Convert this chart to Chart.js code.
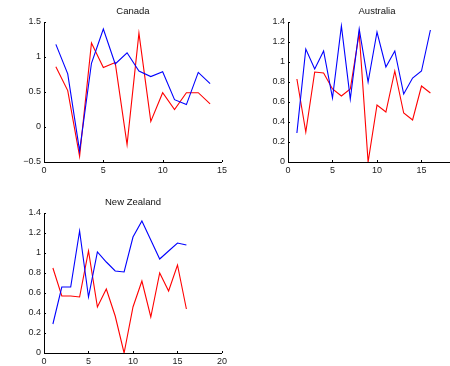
<!DOCTYPE html>
<html>
<head>
<meta charset="utf-8">
<script src="https://cdn.jsdelivr.net/npm/chart.js@4/dist/chart.umd.min.js"></script>
<style>
  html, body { margin: 0; padding: 0; background: #fff; overflow: hidden; width: 450px; height: 366px; }
  .panel { position: absolute; width: 230px; height: 180px; }
</style>
</head>
<body>
<div class="panel" style="left:0;top:0"><canvas id="canada"></canvas></div>
<div class="panel" style="left:244px;top:0"><canvas id="australia"></canvas></div>
<div class="panel" style="left:0;top:191px"><canvas id="newzealand"></canvas></div>
<script>
// Panel titles
const titles = ["Canada", "Australia", "New Zealand"];

// Canada (periods 1..14)
const canadaBlue = [1.18, 0.76, -0.34, 0.91, 1.40, 0.90, 1.06, 0.80, 0.72, 0.79, 0.39, 0.32, 0.78, 0.62];
const canadaRed  = [0.86, 0.52, -0.42, 1.20, 0.85, 0.92, -0.25, 1.34, 0.08, 0.49, 0.25, 0.49, 0.49, 0.33];

// Australia (periods 1..16)
const australiaBlue = [0.29, 1.13, 0.93, 1.11, 0.64, 1.36, 0.63, 1.33, 0.80, 1.30, 0.95, 1.11, 0.68, 0.84, 0.91, 1.32];
const australiaRed  = [0.83, 0.30, 0.90, 0.89, 0.73, 0.66, 0.73, 1.29, 0.00, 0.57, 0.50, 0.91, 0.49, 0.42, 0.76, 0.69];

// New Zealand (periods 1..16)
const nzBlue = [0.29, 0.66, 0.66, 1.22, 0.56, 1.01, 0.91, 0.82, 0.81, 1.16, 1.32, 1.13, 0.94, 1.02, 1.10, 1.08];
const nzRed  = [0.85, 0.57, 0.57, 0.56, 1.02, 0.46, 0.64, 0.37, 0.00, 0.46, 0.72, 0.36, 0.80, 0.62, 0.88, 0.44];

// Axis ranges and tick steps
const canadaX = { min: 0, max: 15, step: 5 };
const canadaY = { min: -0.5, max: 1.5, step: 0.5 };
const australiaX = { min: 0, max: 20, step: 5 };
const australiaY = { min: 0, max: 1.4, step: 0.2 };
const nzX = { min: 0, max: 20, step: 5 };
const nzY = { min: 0, max: 1.4, step: 0.2 };

const FONT = "'Liberation Sans', Arial, Helvetica, sans-serif";

function toPoints(values) {
  return values.map((v, i) => ({ x: i + 1, y: v }));
}

function fmt(v) {
  const r = Math.round(v * 10) / 10;
  const s = String(Math.abs(r));
  return (r < 0 ? "\u2212" : "") + s;
}

// Inward tick marks and a title above the plot box
const axesDecor = {
  id: "axesDecor",
  afterDraw(chart, args, opts) {
    const ctx = chart.ctx;
    const a = chart.chartArea;
    const xs = chart.scales.x, ys = chart.scales.y;
    ctx.save();
    ctx.strokeStyle = "#000";
    ctx.lineWidth = 1;
    ctx.beginPath();
    xs.ticks.forEach(t => {
      const px = Math.round(xs.getPixelForValue(t.value)) + 0.5;
      ctx.moveTo(px, a.bottom);
      ctx.lineTo(px, a.bottom - 2);
    });
    ys.ticks.forEach(t => {
      const py = Math.round(ys.getPixelForValue(t.value)) + 0.5;
      ctx.moveTo(a.left, py);
      ctx.lineTo(a.left + 2, py);
    });
    ctx.stroke();
    ctx.fillStyle = "#111";
    ctx.font = "9.5px " + FONT;
    ctx.textAlign = "center";
    ctx.textBaseline = "middle";
    ctx.fillText(opts.text, (a.left + a.right) / 2, a.top - 11);
    ctx.restore();
  }
};

function makeChart(id, title, blue, red, xr, yr) {
  return new Chart(document.getElementById(id), {
    type: "line",
    data: {
      datasets: [
        { data: toPoints(blue), borderColor: "#0000ff", borderWidth: 1.1, pointRadius: 0, tension: 0, fill: false },
        { data: toPoints(red), borderColor: "#ff0000", borderWidth: 1.1, pointRadius: 0, tension: 0, fill: false }
      ]
    },
    options: {
      responsive: false,
      animation: false,
      devicePixelRatio: 1,
      layout: { padding: { left: 0, right: 8, top: 22, bottom: 0 } },
      plugins: { legend: { display: false }, tooltip: { enabled: false }, axesDecor: { text: title } },
      scales: {
        x: {
          type: "linear",
          min: xr.min, max: xr.max,
          grid: { display: true, drawOnChartArea: false, drawTicks: false },
          border: { display: true, color: "#000", width: 1 },
          ticks: { stepSize: xr.step, padding: 3, color: "#222", font: { family: FONT, size: 9 }, maxRotation: 0, callback: v => fmt(v) },
          afterFit: s => { s.height = 18; }
        },
        y: {
          type: "linear",
          min: yr.min, max: yr.max,
          grid: { display: true, drawOnChartArea: false, drawTicks: false },
          border: { display: true, color: "#000", width: 1 },
          ticks: { stepSize: yr.step, padding: 3, color: "#222", font: { family: FONT, size: 9 }, callback: v => fmt(v) },
          afterFit: s => { s.width = 44; }
        }
      }
    },
    plugins: [axesDecor]
  });
}

document.querySelectorAll("canvas").forEach(c => { c.width = 230; c.height = 180; });

makeChart("canada", titles[0], canadaBlue, canadaRed, canadaX, canadaY);
makeChart("australia", titles[1], australiaBlue, australiaRed, australiaX, australiaY);
makeChart("newzealand", titles[2], nzBlue, nzRed, nzX, nzY);
</script>
</body>
</html>
